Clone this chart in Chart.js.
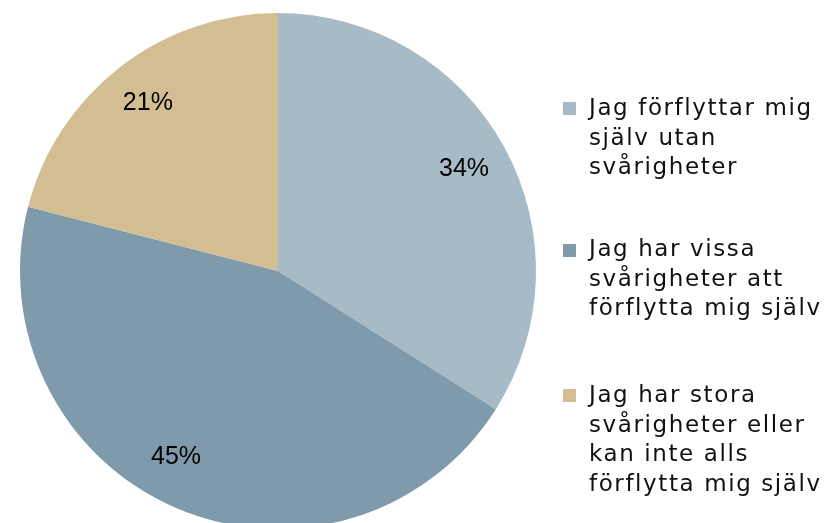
<!DOCTYPE html>
<html>
<head>
<meta charset="utf-8">
<script src="https://cdn.jsdelivr.net/npm/chart.js@4/dist/chart.umd.min.js"></script>
<style>
  html, body { margin: 0; padding: 0; background: #fff; overflow: hidden; width: 836px; height: 523px; }
  #wrap { position: absolute; left: 0; top: 0; width: 836px; height: 542px; }
  .leg { position: absolute; left: 589px; font-family: "DejaVu Sans", sans-serif; font-size: 23px; letter-spacing: 1.6px; line-height: 29.5px; color: #111; white-space: nowrap; }
  .sw { position: absolute; left: 563px; width: 13px; height: 13px; }
</style>
</head>
<body>
<div id="wrap"><canvas id="c" width="836" height="542"></canvas></div>
<div id="legend"></div>
<script>
const categories = [
  "Jag förflyttar mig själv utan svårigheter",
  "Jag har vissa svårigheter att förflytta mig själv",
  "Jag har stora svårigheter eller kan inte alls förflytta mig själv"
];
const legendLines = [
  ["Jag förflyttar mig", "själv utan", "svårigheter"],
  ["Jag har vissa", "svårigheter att", "förflytta mig själv"],
  ["Jag har stora", "svårigheter eller", "kan inte alls", "förflytta mig själv"]
];
const values = [34, 45, 21];
const colors = ["#A7BBC7", "#7F9BAB", "#D3BE93"];

// legend (HTML text)
const legTops = [93, 234, 380];
const swTops = [102, 244, 389];
const legend = document.getElementById('legend');
legendLines.forEach((lines, i) => {
  const sw = document.createElement('div');
  sw.className = 'sw';
  sw.style.top = swTops[i] + 'px';
  sw.style.background = colors[i];
  legend.appendChild(sw);
  const d = document.createElement('div');
  d.className = 'leg';
  d.style.top = legTops[i] + 'px';
  d.innerHTML = lines.join('<br>');
  legend.appendChild(d);
});

const labelPlugin = {
  id: 'pctLabels',
  afterDatasetsDraw(chart) {
    const ctx = chart.ctx;
    const meta = chart.getDatasetMeta(0);
    const nudges = [0, 5.3 * Math.PI / 180, 0];
    ctx.save();
    ctx.font = '25px "Liberation Sans", Arial, sans-serif';
    ctx.fillStyle = '#000';
    ctx.textAlign = 'center';
    ctx.textBaseline = 'middle';
    meta.data.forEach((arc, i) => {
      const p = arc.getProps(['x', 'y', 'startAngle', 'endAngle', 'outerRadius'], true);
      const mid = (p.startAngle + p.endAngle) / 2 + nudges[i];
      const r = p.outerRadius * 0.823;
      ctx.fillText(values[i] + '%', p.x + Math.cos(mid) * r, p.y + Math.sin(mid) * r);
    });
    ctx.restore();
  }
};

new Chart(document.getElementById('c'), {
  type: 'pie',
  data: {
    labels: categories,
    datasets: [{
      data: values,
      backgroundColor: colors,
      borderWidth: 0
    }]
  },
  options: {
    responsive: false,
    animation: false,
    radius: 258,
    layout: { padding: { left: 20, right: 300, top: 13, bottom: 13 } },
    plugins: {
      legend: { display: false },
      tooltip: { enabled: false }
    }
  },
  plugins: [labelPlugin]
});
</script>
</body>
</html>
